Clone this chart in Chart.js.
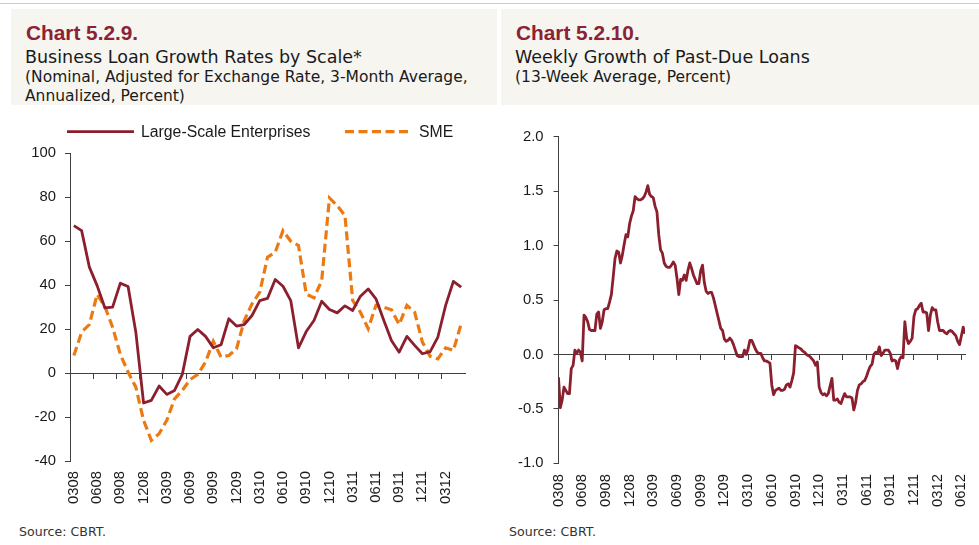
<!DOCTYPE html>
<html><head><meta charset="utf-8">
<script src="https://cdn.jsdelivr.net/npm/chart.js@4.4.1/dist/chart.umd.min.js"></script>
<style>
html,body{margin:0;padding:0;background:#fff;}
body{width:979px;height:545px;position:relative;overflow:hidden;font-family:"DejaVu Sans",sans-serif;color:#1a1a1a;}
.topline{position:absolute;left:0;top:3px;width:979px;height:1px;background:#cfcbbd;}
.hdr{position:absolute;top:9px;height:96px;background:#f6f5f0;}
.t{position:absolute;white-space:nowrap;}
.title{font-family:"Liberation Sans",Arial,sans-serif;font-weight:bold;font-size:20.8px;line-height:23.2px;color:#8c2233;}
.sub{font-size:17.5px;line-height:20.37px;}
.note{font-size:15.5px;line-height:18.04px;}
.src{font-size:12.6px;line-height:14.7px;color:#333;}
canvas{position:absolute;}
</style></head>
<body>
<div class="topline"></div>
<div class="hdr" style="left:11px;width:486px;"></div>
<div class="hdr" style="left:501px;width:478px;"></div>
<div class="t title" style="left:26px;top:20.5px;">Chart 5.2.9.</div>
<div class="t sub" style="left:25px;top:47px;">Business Loan Growth Rates by Scale*</div>
<div class="t note" style="left:25px;top:68.3px;">(Nominal, Adjusted for Exchange Rate, 3-Month Average,</div>
<div class="t note" style="left:25px;top:86.9px;">Annualized, Percent)</div>
<div class="t title" style="left:516px;top:20.5px;">Chart 5.2.10.</div>
<div class="t sub" style="left:515px;top:47px;">Weekly Growth of Past-Due Loans</div>
<div class="t note" style="left:515px;top:68.3px;">(13-Week Average, Percent)</div>
<canvas id="c1" width="497" height="410" style="left:0;top:110px;width:497px;height:410px;"></canvas>
<canvas id="c2" width="478" height="410" style="left:501px;top:110px;width:478px;height:410px;"></canvas>
<div class="t src" style="left:19px;top:525.3px;">Source: CBRT.</div>
<div class="t src" style="left:509px;top:525.3px;">Source: CBRT.</div>
<script>
// ---- Chart 5.2.9 data (monthly) ----
const months = ['0308','0408','0508','0608','0708','0808','0908','1008','1108','1208',
  '0109','0209','0309','0409','0509','0609','0709','0809','0909','1009','1109','1209',
  '0110','0210','0310','0410','0510','0610','0710','0810','0910','1010','1110','1210',
  '0111','0211','0311','0411','0511','0611','0711','0811','0911','1011','1111','1211',
  '0112','0212','0312','0412','0512'];
const largeScale = [67.1,64.8,48.2,39.8,29.7,30.0,40.9,39.4,18.6,-13.6,
  -12.4,-5.9,-9.7,-7.9,-0.6,16.7,19.8,16.7,11.5,12.9,
  24.7,21.4,22.1,26.2,33.0,34.0,42.6,39.5,33.0,11.5,
  18.9,23.9,32.7,28.9,27.4,30.6,28.5,35.0,38.3,33.8,
  24.2,14.8,9.5,16.7,12.6,8.8,9.8,16.4,30.8,41.7,39.1];
const sme = [8.0,18.6,22.1,35.8,30.3,20.9,8.5,0.5,-6.4,-21.5,
  -30.6,-27.6,-21.5,-11.7,-7.9,-3.0,-0.6,5.0,14.5,7.3,
  8.0,11.0,23.9,31.5,36.8,52.7,55.0,64.8,60.0,58.0,
  36.0,34.2,42.1,79.7,76.2,71.7,33.0,27.7,20.2,30.8,
  30.0,28.8,22.1,30.8,27.7,14.1,7.6,6.5,11.5,10.3,22.4];
const seriesNames = ['Large-Scale Enterprises','SME'];

// ---- Chart 5.2.10 data (weekly) ----
const weekTickLabels = ['0308','0608','0908','1208','0309','0609','0909','1209','0310',
  '0610','0910','1210','0311','0611','0911','1211','0312','0612'];
const weeksPerTick = 13;
const weeklyGrowth = [
  -0.21,-0.49,-0.42,-0.30,-0.33,-0.36,-0.36,-0.13,-0.10,0.04,
  0.01,0.04,0.02,-0.06,0.36,0.34,0.30,0.23,0.22,0.22,
  0.22,0.37,0.39,0.24,0.30,0.41,0.42,0.42,0.48,0.55,
  0.71,0.88,0.95,0.94,0.84,0.91,1.01,1.10,1.08,1.20,
  1.27,1.32,1.45,1.43,1.42,1.42,1.43,1.45,1.49,1.55,
  1.47,1.45,1.44,1.36,1.31,1.10,0.96,0.93,0.84,0.81,
  0.80,0.80,0.82,0.85,0.82,0.70,0.55,0.69,0.68,0.73,
  0.68,0.77,0.84,0.79,0.73,0.69,0.65,0.65,0.77,0.82,
  0.66,0.58,0.56,0.57,0.57,0.52,0.45,0.38,0.31,0.24,
  0.22,0.14,0.12,0.13,0.15,0.13,0.09,0.04,-0.01,-0.02,
  -0.02,-0.02,0.04,0.00,0.05,0.13,0.13,0.09,0.05,0.02,
  0.01,0.01,-0.03,-0.06,-0.06,-0.07,-0.08,-0.28,-0.37,-0.33,
  -0.32,-0.31,-0.33,-0.33,-0.32,-0.28,-0.27,-0.30,-0.24,-0.17,
  0.08,0.07,0.06,0.05,0.03,0.02,0.00,-0.01,-0.02,-0.04,
  -0.06,-0.10,-0.07,-0.30,-0.35,-0.37,-0.36,-0.38,-0.36,-0.29,
  -0.22,-0.42,-0.42,-0.41,-0.44,-0.45,-0.40,-0.36,-0.39,-0.39,
  -0.39,-0.40,-0.51,-0.44,-0.33,-0.28,-0.27,-0.25,-0.24,-0.20,
  -0.15,-0.11,-0.09,0.00,0.02,0.01,0.07,-0.01,0.01,0.04,
  0.04,0.04,0.01,-0.06,-0.05,-0.06,-0.13,-0.05,-0.02,-0.03,
  0.30,0.15,0.10,0.12,0.15,0.35,0.41,0.42,0.45,0.47,
  0.39,0.39,0.38,0.22,0.36,0.43,0.41,0.41,0.30,0.22,
  0.22,0.22,0.20,0.19,0.21,0.22,0.21,0.19,0.17,0.12,
  0.09,0.17,0.25,0.19];

const DARK = '#8b1f2e', ORANGE = '#ec7a12', AXIS = '#404040', TXT = '#1a1a1a';
const tickFont = {family: '"Liberation Sans", Arial, sans-serif', size: 14.8};

const lineLegend = {
  id: 'lineLegend',
  afterDraw(chart, args, opts) {
    const ctx = chart.ctx;
    ctx.save();
    ctx.font = '15.8px "Liberation Sans", Arial, sans-serif';
    ctx.textBaseline = 'middle';
    ctx.textAlign = 'left';
    ctx.fillStyle = TXT;
    opts.xs.forEach((x, i) => {
      const ds = chart.data.datasets[i];
      ctx.strokeStyle = ds.borderColor;
      ctx.lineWidth = ds.borderWidth;
      ctx.lineCap = 'butt';
      ctx.setLineDash(ds.borderDash || []);
      ctx.beginPath();
      ctx.moveTo(x, opts.y);
      ctx.lineTo(x + opts.len, opts.y);
      ctx.stroke();
      ctx.setLineDash([]);
      ctx.fillText(ds.label, x + opts.len + opts.gap, opts.y + 0.5);
    });
    ctx.restore();
  }
};

const noSidePad = s => { s.paddingLeft = 0; s.paddingRight = 0; };

new Chart(document.getElementById('c1'), {
  type: 'line',
  data: {
    labels: months,
    datasets: [
      {label: seriesNames[0], data: largeScale, borderColor: DARK, borderWidth: 2.8,
       pointRadius: 0, tension: 0, fill: false, borderJoinStyle: 'round'},
      {label: seriesNames[1], data: sme, borderColor: ORANGE, borderWidth: 3.2,
       borderDash: [9, 4.5], pointRadius: 0, tension: 0, fill: false}
    ]
  },
  options: {
    responsive: false, animation: false, devicePixelRatio: 1,
    layout: {padding: {left: 0, right: 32, top: 43.3, bottom: 9}},
    plugins: {
      legend: {display: false}, tooltip: {enabled: false},
      lineLegend: {xs: [67, 345], y: 21.7, len: 67, gap: 7}
    },
    scales: {
      x: {
        type: 'category', position: 'bottom', offset: true,
        grid: {display: false, drawTicks: false}, border: {display: false},
        ticks: {autoSkip: false, minRotation: 90, maxRotation: 90, padding: 10,
          color: TXT, font: tickFont,
          callback: (v, i) => (i % 3 === 0 ? months[i] : '')},
        afterFit: s => { s.height = 50; noSidePad(s); }
      },
      x2: {
        type: 'category', position: {y: 0}, offset: true,
        grid: {offset: true, drawOnChartArea: false, tickLength: 5, lineWidth: 1,
          color: c => (c.index % 3 === 0 ? AXIS : 'rgba(0,0,0,0)')},
        border: {display: true, color: AXIS, width: 1},
        ticks: {display: false},
        afterFit: noSidePad
      },
      y: {
        min: -40, max: 100,
        ticks: {stepSize: 20, padding: 9, color: TXT, font: tickFont},
        grid: {drawOnChartArea: false, tickLength: 5, color: AXIS},
        border: {color: AXIS, width: 1},
        afterFit: s => { s.width = 70; }
      }
    }
  },
  plugins: [lineLegend]
});

const setWeekTicks = s => { s.ticks = weekTickLabels.map((_, i) => ({value: i * weeksPerTick})); };

new Chart(document.getElementById('c2'), {
  type: 'line',
  data: {
    datasets: [{
      label: 'Weekly Growth of Past-Due Loans',
      data: weeklyGrowth.map((v, i) => ({x: i, y: v})),
      borderColor: DARK, borderWidth: 2.8, pointRadius: 0, tension: 0, fill: false,
      borderJoinStyle: 'round'
    }]
  },
  options: {
    responsive: false, animation: false, devicePixelRatio: 1,
    layout: {padding: {left: 0, right: 14, top: 26.7, bottom: 8.7}},
    plugins: {legend: {display: false}, tooltip: {enabled: false}},
    scales: {
      x: {
        type: 'linear', position: 'bottom', min: 0, max: weeklyGrowth.length - 1,
        afterBuildTicks: setWeekTicks,
        grid: {display: false, drawTicks: false}, border: {display: false},
        ticks: {autoSkip: false, minRotation: 90, maxRotation: 90, padding: 10.7,
          color: TXT, font: tickFont,
          callback: (v, i) => weekTickLabels[i]},
        afterFit: s => { s.height = 48; noSidePad(s); }
      },
      x2: {
        type: 'linear', position: {y: 0}, min: 0, max: weeklyGrowth.length - 1,
        afterBuildTicks: setWeekTicks,
        grid: {drawOnChartArea: false, tickLength: 5, color: AXIS, lineWidth: 1},
        border: {display: true, color: AXIS, width: 1},
        ticks: {display: false},
        afterFit: noSidePad
      },
      y: {
        min: -1, max: 2,
        ticks: {stepSize: 0.5, padding: 10, color: TXT, font: tickFont,
          callback: v => Number(v).toFixed(1)},
        grid: {drawOnChartArea: false, tickLength: 5, color: AXIS},
        border: {color: AXIS, width: 1},
        afterFit: s => { s.width = 57.5; }
      }
    }
  }
});
</script>
</body></html>
